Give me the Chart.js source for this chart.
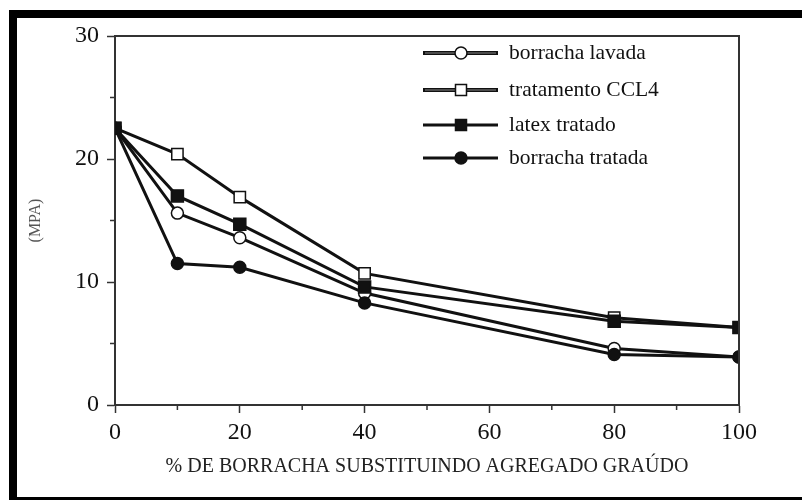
<!DOCTYPE html>
<html>
<head>
<meta charset="utf-8">
<script src="https://cdn.jsdelivr.net/npm/chart.js@4/dist/chart.umd.min.js"></script>
<style>
  html, body { margin: 0; padding: 0; background: #fff; }
  #caixa { position: relative; width: 802px; height: 500px; overflow: hidden; }
  #grafico { position: absolute; left: 0; top: 0; }
  .barra { position: absolute; background: #000; }
</style>
</head>
<body>
<div id="caixa">
  <canvas id="grafico" width="802" height="500"></canvas>
  <div class="barra" style="left:9px; top:10px; right:0; height:8px;"></div>
  <div class="barra" style="left:9px; top:10px; width:8px; bottom:0;"></div>
  <div class="barra" style="left:9px; top:497px; right:0; height:3px;"></div>
</div>
<script>
// Dados
const percentuais = [0, 10, 20, 40, 80, 100];
const borrachaLavada = [22.5, 15.6, 13.6, 9.1, 4.6, 3.9];
const tratamentoCCL4 = [22.5, 20.4, 16.9, 10.7, 7.1, 6.3];
const latexTratado = [22.5, 17.0, 14.7, 9.6, 6.8, 6.3];
const borrachaTratada = [22.5, 11.5, 11.2, 8.3, 4.1, 3.9];
const nomesSeries = ['borracha lavada', 'tratamento CCL4', 'latex tratado', 'borracha tratada'];
const ticksMenoresX = [10, 30, 50, 70, 90];
const ticksMenoresY = [5, 15, 25];

const fonteSerif = '"Liberation Serif", "DejaVu Serif", serif';
const pontos = valores => valores.map((v, i) => ({ x: percentuais[i], y: v }));

function serie(nome, valores, estilo, preenchido, raio, ordem) {
    return {
        label: nome, data: pontos(valores),
        borderColor: '#111', borderWidth: 3,
        pointStyle: estilo, pointRadius: raio,
        pointBackgroundColor: preenchido ? '#111' : '#fff',
        pointBorderColor: '#111', pointBorderWidth: 1.5,
        tension: 0, order: ordem
    };
}

// Moldura do gráfico + ticks menores
const pluginMoldura = {
    id: 'moldura',
    afterDraw(chart) {
        const { ctx, chartArea: a, scales } = chart;
        ctx.save();
        ctx.strokeStyle = '#333';
        ctx.lineWidth = 2;
        ctx.beginPath();
        ctx.moveTo(a.left, a.top); ctx.lineTo(a.right, a.top); ctx.lineTo(a.right, a.bottom);
        ctx.stroke();
        ctx.lineWidth = 1.5;
        ctx.beginPath();
        ticksMenoresX.forEach(v => {
            const px = scales.x.getPixelForValue(v);
            ctx.moveTo(px, a.bottom); ctx.lineTo(px, a.bottom + 5);
        });
        ticksMenoresY.forEach(v => {
            const py = scales.y.getPixelForValue(v);
            ctx.moveTo(a.left, py); ctx.lineTo(a.left - 5, py);
        });
        ctx.stroke();
        ctx.restore();
    }
};

// Legenda desenhada dentro da área do gráfico
const pluginLegenda = {
    id: 'legendaInterna',
    afterDraw(chart) {
        const { ctx } = chart;
        const linhasY = [53, 90, 125, 158];
        ctx.save();
        chart.data.datasets.forEach((ds, i) => {
            const y = linhasY[i];
            const aberto = ds.pointBackgroundColor === '#fff';
            ctx.strokeStyle = '#111';
            ctx.lineWidth = aberto ? 4 : 3;
            ctx.beginPath(); ctx.moveTo(423, y); ctx.lineTo(498, y); ctx.stroke();
            if (aberto) {
                ctx.strokeStyle = '#888';
                ctx.lineWidth = 1;
                ctx.beginPath(); ctx.moveTo(425, y); ctx.lineTo(496, y); ctx.stroke();
                ctx.strokeStyle = '#111';
            }
            ctx.fillStyle = ds.pointBackgroundColor;
            ctx.lineWidth = 1.5;
            ctx.beginPath();
            if (ds.pointStyle === 'circle') ctx.arc(461, y, 6, 0, Math.PI * 2);
            else ctx.rect(455.5, y - 5.5, 11, 11);
            ctx.fill(); ctx.stroke();
            ctx.fillStyle = '#111';
            ctx.font = '21.5px ' + fonteSerif;
            ctx.textBaseline = 'middle';
            ctx.fillText(ds.label, 509, y);
        });
        ctx.restore();
    }
};

new Chart(document.getElementById('grafico'), {
    type: 'line',
    data: {
        datasets: [
            serie(nomesSeries[0], borrachaLavada, 'circle', false, 6, 3),
            serie(nomesSeries[1], tratamentoCCL4, 'rect', false, 8, 2),
            serie(nomesSeries[2], latexTratado, 'rect', true, 8.5, 0),
            serie(nomesSeries[3], borrachaTratada, 'circle', true, 6, 1)
        ]
    },
    options: {
        responsive: false, animation: false,
        layout: { padding: { top: 36, right: 63, left: 0, bottom: 0 } },
        plugins: { legend: { display: false }, tooltip: { enabled: false } },
        scales: {
            x: {
                type: 'linear', min: 0, max: 100,
                afterFit: s => { s.height = 95; },
                border: { color: '#333', width: 2 },
                grid: { drawOnChartArea: false, tickLength: 8, tickColor: '#333', tickWidth: 1.5 },
                ticks: { stepSize: 20, color: '#111', padding: 5, font: { family: fonteSerif, size: 24 } },
                title: { display: true, text: '% DE BORRACHA SUBSTITUINDO AGREGADO GRAÚDO', color: '#222',
                         font: { family: fonteSerif, size: 20 }, padding: { top: 0, bottom: 21 } }
            },
            y: {
                min: 0, max: 30,
                afterFit: s => { s.width = 115; },
                border: { color: '#333', width: 2 },
                grid: { drawOnChartArea: false, tickLength: 8, tickColor: '#333', tickWidth: 1.5 },
                ticks: { stepSize: 10, color: '#111', padding: 8, font: { family: fonteSerif, size: 24 } },
                title: { display: true, text: '(MPA)', color: '#555',
                         font: { family: fonteSerif, size: 16 }, padding: { top: 26, bottom: 0 } }
            }
        }
    },
    plugins: [pluginMoldura, pluginLegenda]
});
</script>
</body>
</html>
